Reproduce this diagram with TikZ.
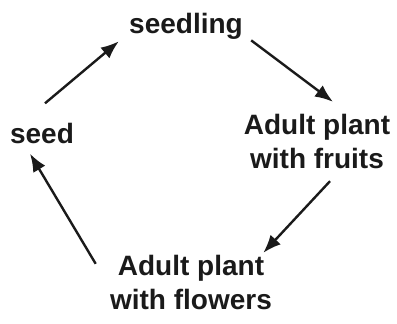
\documentclass[tikz,border=0pt]{standalone}
\usepackage{fontspec}
\setmainfont{Liberation Sans}
\usepackage{tikz}
\usetikzlibrary{arrows.meta}
\definecolor{ink}{HTML}{1A1A1A}
\tikzset{
  stage/.style={font=\fontsize{14pt}{17pt}\selectfont\bfseries, text=ink, inner sep=0pt, align=center},
  cyclearrow/.style={draw=ink, line width=1.2pt, -{Latex[length=9pt,width=7pt]}}
}

\begin{document}
\begin{tikzpicture}[x=0.5pt, y=-0.5pt]
    \useasboundingbox (0,0) rectangle (397,323);
    % life cycle stages
    \node[stage, anchor=base] (seedling) at (186,33) {seedling};
    \node[stage, anchor=base] (seed) at (42,143) {seed};
    \node[stage] (fruits) at (317,141.5) {Adult plant\\with fruits};
    \node[stage] (flowers) at (191,282.5) {Adult plant\\with flowers};
    % arrows round the cycle
    \draw[cyclearrow] ([shift={(3,-19)}]seed.north) -- ([shift={(-10,2)}]seedling.south west);
    \draw[cyclearrow] ([shift={(8,1)}]seedling.south east) -- ([shift={(16,-12)}]fruits.north);
    \draw[cyclearrow] ([shift={(13,12)}]fruits.south) -- ([shift={(-9,-2)}]flowers.north east);
    \draw[cyclearrow] ([shift={(-14,9)}]flowers.north west) -- ([shift={(-12,10)}]seed.south);
  \end{tikzpicture}
\end{document}
